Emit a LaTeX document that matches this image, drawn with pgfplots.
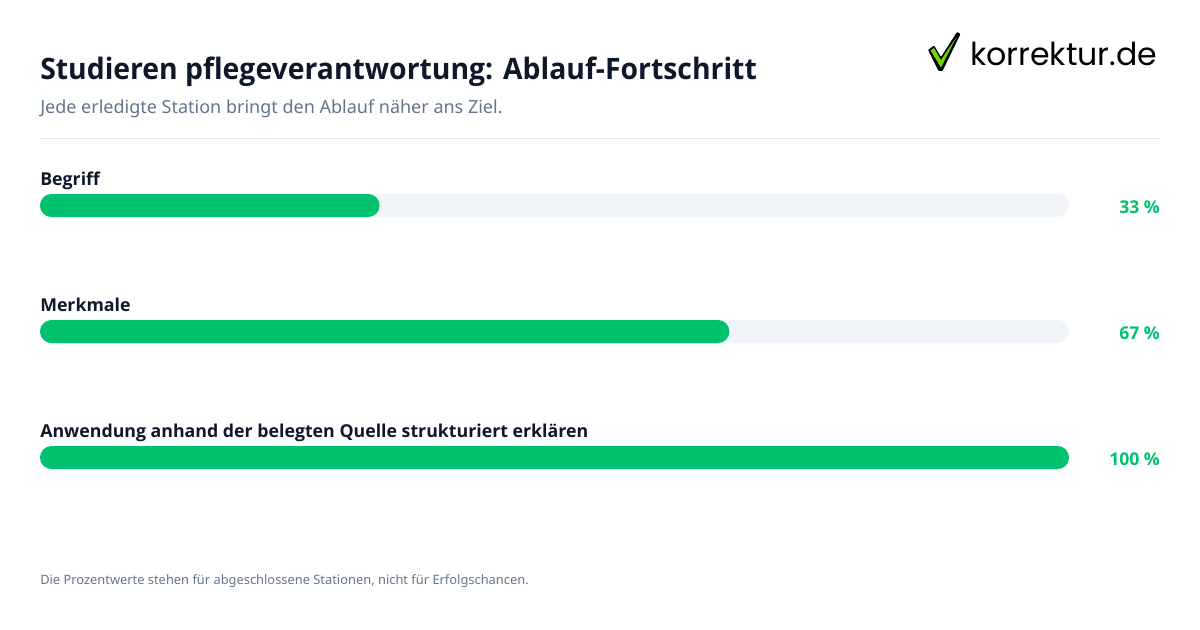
\documentclass[border=0pt]{standalone}
\usepackage{pgfplots}
\pgfplotsset{compat=1.18}
\usepackage{fontspec}
\setmainfont{Noto Sans}
\newfontfamily\osb{Open Sans}
\newfontfamily\logofont{Poppins}
\definecolor{ink}{HTML}{0F172A}
\definecolor{sub}{HTML}{64748B}
\definecolor{track}{HTML}{F1F5F9}
\definecolor{prog}{HTML}{00C26E}
\definecolor{rule}{HTML}{E2E8F0}
\definecolor{lime}{HTML}{6FD40A}
\newcommand{\fz}[1]{\fontsize{\dimexpr#1pt*3/4\relax}{\dimexpr#1pt*9/10\relax}\selectfont}
\begin{document}
\begin{tikzpicture}
\begin{axis}[
  at={(0,0)},anchor=south west,
  scale only axis,width=900pt,height=472.5pt,
  hide axis,clip=false,
  xmin=-3.887,xmax=112.73,
  ymin=-1.631,ymax=3.369,y dir=reverse,
  xbar,bar width=17.25pt,
]
\addplot[fill=track,draw=none,bar shift=0pt,rounded corners=8.6pt] coordinates {(100,0) (100,1) (100,2)};
\addplot[fill=prog,draw=none,bar shift=0pt,rounded corners=8.6pt] coordinates {(33,0) (67,1) (100,2)};
\node[anchor=base east,text=prog,inner xsep=0pt] at (axis cs:108.85,0.064) {\osb\bfseries\fz{17.6}33 \%};
\node[anchor=base east,text=prog,inner xsep=0pt] at (axis cs:108.85,1.064) {\osb\bfseries\fz{17.6}67 \%};
\node[anchor=base east,text=prog,inner xsep=0pt] at (axis cs:108.85,2.064) {\osb\bfseries\fz{17.6}100 \%};
\node[anchor=base west,text=ink,inner xsep=0pt] at (axis cs:0,-0.16) {\osb\bfseries\fz{17.75}Begriff};
\node[anchor=base west,text=ink,inner xsep=0pt] at (axis cs:0,0.84) {\osb\bfseries\fz{17.75}Merkmale};
\node[anchor=base west,text=ink,inner xsep=0pt] at (axis cs:0,1.84) {\osb\bfseries\fz{17.75}Anwendung anhand der belegten Quelle strukturiert erklären};
\end{axis}
\begin{scope}[shift={(0,472.5pt)},x=0.75pt,y=-0.75pt]
\path (0,0) rectangle (1200,630);
\node[anchor=base west,inner xsep=0pt,text=ink,xscale=0.961] at (40,80) {\osb\bfseries\fz{29.5}Studieren pflegeverantwortung: Ablauf-Fortschritt};
\node[anchor=base west,inner xsep=0pt,text=sub] at (40,114) {\fz{18}Jede erledigte Station bringt den Ablauf näher ans Ziel.};
\draw[rule,line width=0.75pt] (40,138.5) -- (1160,138.5);
\node[anchor=base west,inner xsep=0pt,text=sub] at (40,585) {\fz{12.87}Die Prozentwerte stehen für abgeschlossene Stationen, nicht für Erfolgschancen.};
\fill[black,rounded corners=0.6pt] (928,50) -- (934,45.5) -- (941,57) -- (957,32) -- (960.5,34) -- (942.5,71) -- (938.5,71) -- cycle;
\fill[lime] (930.5,50.5) -- (934,48) -- (941,60) -- (956.5,37) -- (941,67.5) -- cycle;
\node[anchor=base west,inner xsep=0pt,text=black] at (970,66) {\logofont\fz{31.6}korrektur.de};
\end{scope}
\end{tikzpicture}
\end{document}
